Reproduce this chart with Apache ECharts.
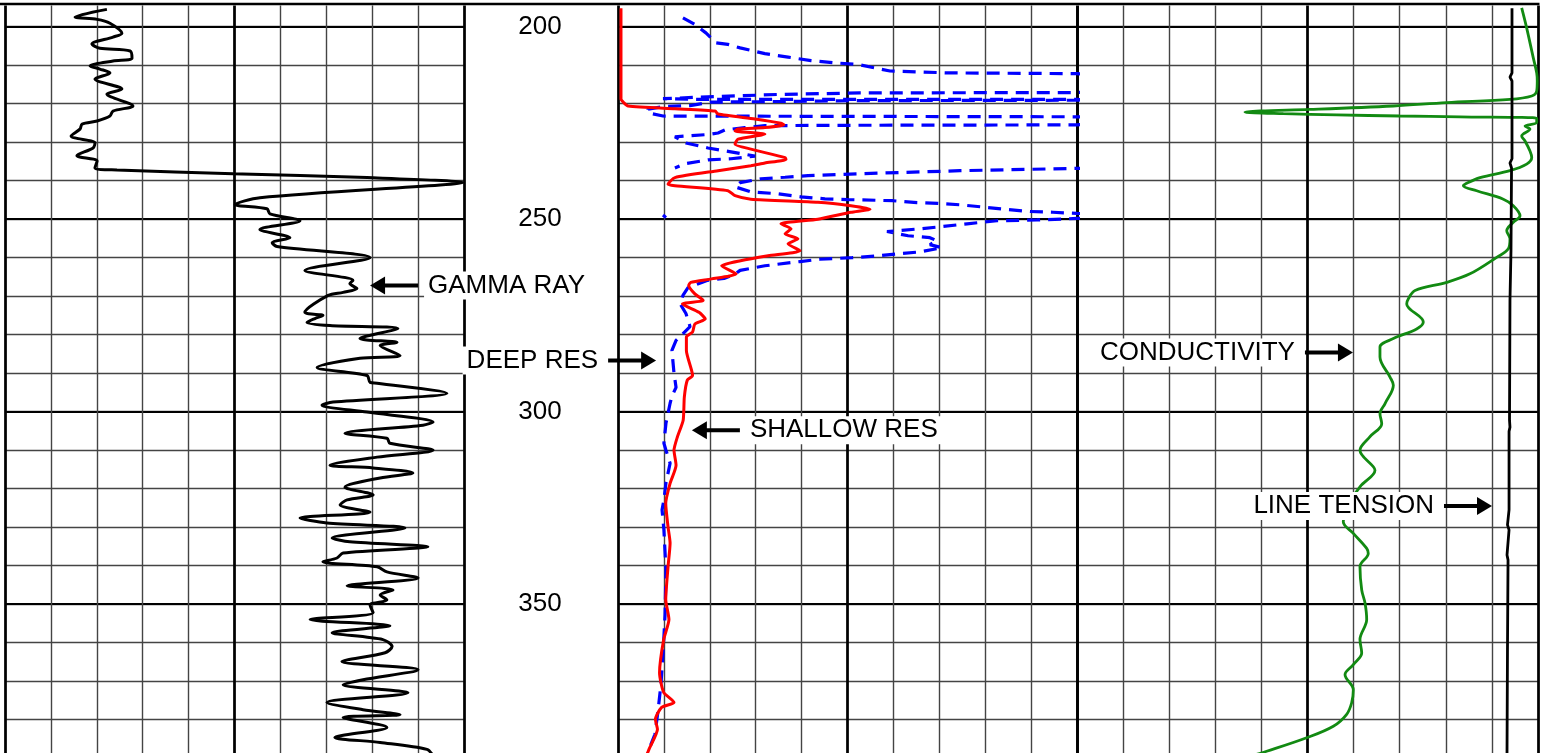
<!DOCTYPE html>
<html><head><meta charset="utf-8">
<script src="https://cdn.jsdelivr.net/npm/echarts@6/dist/echarts.min.js"></script>
<style>html,body{margin:0;padding:0;background:#fff;}#c{width:1551px;height:753px;}</style>
</head><body><div id="c"></div>
<script>
// depth labels shown in the depth track
const depthTicks = [200, 250, 300, 350];

// [value, depth] pairs
const gammaRay = [[33.3,195.5],[22.9,197.5],[30.1,198.1],[34.3,199.1],[38.2,201.7],[35.3,202.7],[28.4,204.5],[31.0,205.6],[40.9,206.3],[41.5,208.2],[35.3,208.9],[27.8,210.2],[31.0,211.0],[34.3,212.0],[29.4,213.6],[38.2,216.2],[33.3,217.5],[41.8,220.6],[35.3,221.9],[34.3,223.2],[30.1,224.5],[25.2,225.3],[24.5,226.6],[21.6,228.4],[29.4,230.2],[28.8,231.5],[23.5,233.5],[30.1,234.9],[29.4,236.7],[36.6,237.2],[74.5,238.2],[118.3,239.2],[149.7,240.5],[142.2,241.1],[83.3,244.4],[75.2,246.2],[85.6,247.3],[86.6,248.6],[96.4,250.4],[83.3,252.7],[93.1,254.8],[87.3,256.1],[88.9,257.1],[119.3,260.0],[98.0,263.3],[113.7,265.9],[112.7,266.7],[115.0,268.0],[110.5,269.0],[105.6,269.8],[98.0,274.2],[103.9,275.0],[101.3,275.8],[98.7,276.8],[106.2,277.6],[128.4,278.4],[116.0,281.0],[128.1,282.0],[122.6,282.8],[129.1,285.4],[116.0,286.1],[102.0,288.5],[118.3,290.6],[119.3,292.4],[121.6,292.6],[144.4,295.2],[107.2,297.5],[103.6,298.3],[118.3,300.1],[139.9,302.7],[136.6,303.5],[111.1,305.6],[124.8,306.9],[125.8,308.2],[139.9,310.0],[121.6,311.8],[106.2,313.9],[120.3,314.6],[133.3,315.9],[122.6,317.2],[111.1,319.6],[120.3,321.6],[111.8,322.9],[109.5,324.2],[119.3,326.1],[96.4,327.6],[105.2,328.9],[130.7,330.2],[106.9,332.8],[112.7,333.8],[138.2,335.1],[110.5,336.7],[108.5,338.0],[103.9,339.0],[121.6,340.3],[124.8,341.6],[135.0,343.2],[111.8,345.2],[126.8,346.3],[122.6,347.6],[124.8,348.9],[119.3,350.2],[120.3,352.2],[99.7,354.0],[125.8,355.6],[106.9,357.4],[123.5,359.2],[126.5,361.0],[124.2,362.6],[110.1,364.9],[135.0,367.0],[117.0,369.6],[110.5,370.9],[131.7,373.0],[105.2,375.5],[117.0,377.4],[129.1,378.7],[110.5,379.4],[124.8,382.0],[107.8,384.6],[122.6,385.9],[137.9,387.7],[140.0,389.5]];

const shallowRes = [[0.13,195.2],[0.13,218.8],[0.26,219.8],[0.44,220.6],[2.48,221.3],[4.23,221.9],[4.36,222.7],[5.97,224.0],[7.10,225.1],[7.23,225.5],[6.40,226.2],[5.23,226.6],[5.10,227.1],[6.40,227.9],[5.23,229.2],[5.10,230.5],[5.79,231.8],[7.28,234.0],[7.32,234.5],[6.40,235.4],[5.79,236.1],[4.36,237.4],[2.48,239.2],[2.18,240.9],[2.48,241.3],[4.79,242.6],[5.10,243.9],[5.79,244.8],[8.71,245.6],[10.15,246.5],[10.98,247.4],[10.15,248.2],[8.71,250.0],[7.10,251.2],[7.54,252.5],[7.28,253.8],[7.84,255.1],[7.41,256.4],[7.93,258.2],[6.54,259.5],[5.34,260.8],[4.52,262.1],[5.15,264.2],[4.07,265.5],[3.17,266.4],[3.08,267.2],[3.35,269.4],[3.71,271.1],[2.81,272.0],[3.53,274.2],[3.80,275.9],[3.35,277.2],[3.25,279.3],[2.98,280.6],[2.98,284.1],[3.25,290.6],[3.02,291.8],[2.89,296.2],[2.84,302.2],[2.59,306.5],[2.44,310.0],[2.53,313.9],[2.27,318.6],[2.08,323.8],[2.18,329.9],[2.27,334.1],[2.18,340.3],[2.08,348.8],[2.22,354.0],[1.99,359.2],[1.81,367.8],[1.99,372.9],[2.44,375.5],[1.90,376.8],[1.63,379.9],[1.72,382.5],[1.35,387.7],[1.18,390.3]];

const deepResA = [[2.83,197.7],[3.35,199.4],[3.83,201.6],[4.27,204.2],[4.79,204.6],[5.32,205.5],[6.40,207.0],[7.41,207.9],[8.41,208.8],[9.45,209.4],[10.46,209.8],[11.85,211.5],[14.38,212.0],[20.0,212.2],[23.2,214.1],[23.2,216.2],[20.0,217.1],[10.54,217.2],[6.97,217.6],[3.57,218.3],[1.96,218.7],[3.57,218.9],[10.54,218.9],[20.0,218.9],[23.2,219.0],[20.0,219.1],[10.54,219.2],[4.01,219.6],[3.14,220.5],[2.05,220.7],[1.31,221.4],[1.31,222.4],[1.96,223.2],[10.54,223.3],[20.0,223.4],[23.2,224.0],[20.0,225.5],[10.54,225.6],[6.40,225.7],[5.53,226.2],[4.66,226.8],[4.36,227.6],[3.92,228.0],[2.48,228.6],[2.96,230.2],[3.92,231.5],[4.92,232.5],[5.97,233.6],[4.92,234.3],[3.92,234.6],[2.92,235.6],[2.48,236.7]];

const deepResB = [[23.2,236.4],[20.0,236.8],[14.90,237.4],[10.46,238.2],[8.28,238.7],[7.28,239.1],[6.23,239.5],[5.32,240.5],[5.10,241.6],[5.79,242.9],[6.97,243.4],[7.97,244.2],[9.02,244.7],[10.02,244.9],[11.98,245.2],[13.03,245.7],[13.94,245.9],[14.99,246.3],[15.99,246.9],[16.99,247.5],[17.95,248.0],[18.95,248.2],[20.0,248.5],[23.2,249.1],[23.2,249.6],[20.0,249.8],[18.26,250.2],[16.51,250.4],[15.21,251.2],[14.16,251.9],[13.16,252.5],[11.72,253.2],[12.64,254.3],[13.59,254.8],[13.90,255.6],[13.59,256.6],[14.12,257.4],[13.16,258.5],[12.20,259.0],[11.20,259.6],[10.20,260.0],[8.80,260.4],[7.93,261.0],[6.40,262.1],[5.32,263.3],[5.14,264.1],[4.62,265.4],[3.88,265.9],[3.53,266.7],[3.05,267.8],[2.83,269.8],[2.70,271.9],[2.96,274.5],[3.14,277.9],[2.53,281.5],[2.35,284.1],[2.44,290.0],[2.53,293.7],[2.35,296.0],[2.27,297.8],[2.09,303.0],[2.00,308.2],[2.09,310.0],[2.27,313.4],[2.09,318.5],[2.00,322.9],[1.92,325.5],[2.00,330.7],[2.09,341.1],[2.05,352.7],[1.96,363.1],[1.87,370.9],[1.74,377.9],[1.61,383.8],[1.35,387.7],[1.22,390.3]];

const deepResC = [[1.96,248.9],[2.09,249.6]];

const conductivity = [[17.7,195.1],[12.3,200.3],[5.1,208.1],[1.4,212.0],[0.8,214.1],[1.4,216.7],[6.8,218.0],[30.4,218.9],[99.0,219.7],[156.9,220.6],[247.3,221.5],[301.5,221.9],[317.8,222.2],[276.2,222.6],[218.3,222.9],[149.7,223.2],[84.6,223.4],[1.4,223.8],[1.4,224.9],[14.1,225.8],[8.7,226.6],[17.7,228.4],[14.1,229.7],[8.7,232.3],[6.8,234.0],[12.3,235.7],[30.4,237.4],[62.9,239.2],[79.2,240.9],[81.0,241.3],[66.5,242.6],[37.6,244.8],[26.8,246.5],[19.5,249.1],[26.8,250.8],[33.9,253.0],[30.4,255.1],[32.2,257.7],[44.8,259.9],[73.8,264.2],[99.0,266.4],[133.4,268.5],[140.7,270.7],[142.4,272.0],[124.4,276.7],[131.6,278.5],[156.9,281.0],[171.4,283.2],[171.4,285.8],[160.5,291.0],[156.9,293.1],[165.9,297.9],[171.4,300.5],[169.5,303.1],[182.2,306.5],[193.1,310.0],[178.6,314.3],[176.8,315.2],[193.1,319.5],[205.0,324.0],[211.2,328.6],[200.3,331.6],[185.8,335.5],[184.1,336.8],[193.1,340.2],[191.2,346.3],[187.6,349.7],[185.8,354.0],[193.1,359.2],[191.2,362.7],[200.3,365.7],[209.3,368.3],[200.3,372.2],[202.1,375.6],[207.5,378.6],[222.0,381.7],[250.9,384.7],[294.3,388.2],[312.4,389.5]];

const lineTension = [[4718,195.2],[4718,212.0],[4696,213.1],[4718,214.1],[4718,234.3],[4696,235.4],[4713,236.7],[4707,258.2],[4696,271.1],[4691,302.2],[4696,304.0],[4686,305.1],[4686,325.5],[4669,329.4],[4686,330.7],[4664,337.2],[4675,338.5],[4669,361.8],[4664,388.5],[4664,390.3]];

// annotation: text, xAxisIndex, yAxisIndex, value, depth, arrow direction
const annotations = [
  ['GAMMA RAY', 0, 0, 119.3, 267.2, 'left'],
  ['DEEP RES', 1, 2, 1.66, 286.7, 'right'],
  ['SHALLOW RES', 1, 2, 3.22, 304.8, 'left'],
  ['CONDUCTIVITY', 2, 4, 200.7, 284.6, 'right'],
  ['LINE TENSION', 3, 4, 4501, 324.5, 'right']
];

const chart = echarts.init(document.getElementById('c'), null, {renderer: 'canvas'});
const FONT = '"Liberation Sans", Arial, Helvetica, sans-serif';
const TOP = -165.8, H = 962.5;
const thin = {show: true, lineStyle: {color: '#444', width: 1.4}};
const thick = {show: true, lineStyle: {color: '#000', width: 2.7}};
const thickH = {show: true, lineStyle: {color: '#000', width: 2.2}};

function grid(left, width) {
  return {left: left, top: TOP, width: width, height: H, containLabel: false, outerBoundsMode: 'none', show: false};
}
function xa(g, min, max, opt) {
  return Object.assign({type: 'value', gridIndex: g, min: min, max: max, interval: (max - min) / 10,
    axisLine: {show: false}, axisTick: {show: false}, axisLabel: {show: false}, splitLine: thin}, opt || {});
}
function ya(g, interval, opt) {
  return Object.assign({type: 'value', gridIndex: g, min: 150, max: 400, inverse: true, interval: interval,
    axisLine: {show: false}, axisTick: {show: false}, axisLabel: {show: false},
    splitLine: interval === 10 ? thin : thickH}, opt || {});
}
function line(name, data, xi, yi, color, width, extra) {
  return Object.assign({type: 'line', name: name, data: data, xAxisIndex: xi, yAxisIndex: yi,
    symbol: 'none', smooth: 0.3, clip: true, animation: false, z: 3,
    lineStyle: {color: color, width: width}}, extra || {});
}
const dashed = {color: '#0000ff', width: 3.2, type: [13, 8]};

chart.setOption({
  backgroundColor: '#fff',
  animation: false,
  grid: [grid(5, 459), grid(618, 459), grid(1077, 461)],
  xAxis: [
    xa(0, 0, 150), xa(1, 0, 20), xa(2, 0, 500, {inverse: true}), xa(2, 0, 5000, {splitLine: {show: false}}),
    xa(0, 0, 2, {interval: 1, splitLine: thick}), xa(1, 0, 2, {interval: 1, splitLine: thick}),
    xa(2, 0, 2, {interval: 1, splitLine: thick})
  ],
  yAxis: [
    ya(0, 10),
    ya(0, 50, {position: 'right', axisLabel: {show: true, margin: 76, align: 'center', fontSize: 26,
      color: '#000', fontFamily: FONT, formatter: function (v) { return depthTicks.indexOf(v) >= 0 ? String(v) : ''; }}}),
    ya(1, 10), ya(1, 50), ya(2, 10), ya(2, 50)
  ],
  series: [
    line('Gamma Ray', gammaRay, 0, 0, '#000', 3),
    line('Deep Res', deepResA, 1, 2, '#0000ff', 3, {smooth: false, lineStyle: dashed}),
    line('Deep Res 2', deepResB, 1, 2, '#0000ff', 3, {smooth: false, lineStyle: dashed}),
    line('Deep Res 3', deepResC, 1, 2, '#0000ff', 3, {smooth: false, lineStyle: dashed}),
    line('Shallow Res', shallowRes, 1, 2, '#ff0000', 3, {smooth: 0.2}),
    line('Conductivity', conductivity, 2, 4, '#128a12', 2.8, {smooth: 0.35}),
    line('Line Tension', lineTension, 3, 4, '#000', 2.8, {smooth: false})
  ]
});

const gfx = [];
gfx.push({type: 'rect', shape: {x: 0, y: 0, width: 1551, height: 5.5}, style: {fill: '#fff'}, z: 100, silent: true});
gfx.push({type: 'line', shape: {x1: 0, y1: 4, x2: 1539.5, y2: 4}, style: {stroke: '#000', lineWidth: 2.4}, z: 101, silent: true});
annotations.forEach(function (a) {
  const p = chart.convertToPixel({xAxisIndex: a[1], yAxisIndex: a[2]}, [a[3], a[4]]);
  const hx = p[0], hy = p[1];
  const s = a[5] === 'left' ? 1 : -1;
  gfx.push({type: 'line', shape: {x1: hx + s * 12, y1: hy, x2: hx + s * 48, y2: hy}, style: {stroke: '#000', lineWidth: 4}, z: 103, silent: true});
  gfx.push({type: 'polygon', shape: {points: [[hx, hy], [hx + s * 15, hy - 9], [hx + s * 15, hy + 9]]}, style: {fill: '#000'}, z: 103, silent: true});
  gfx.push({type: 'text', x: hx + s * 54, y: hy, z: 102, silent: true,
    style: {text: a[0], fill: '#000', font: '26px ' + FONT,
      align: s > 0 ? 'left' : 'right', textAlign: s > 0 ? 'left' : 'right',
      verticalAlign: 'middle', textVerticalAlign: 'middle',
      backgroundColor: '#fff', padding: [1, 4, 1, 4]}});
});
chart.setOption({graphic: gfx});
</script>
</body></html>
